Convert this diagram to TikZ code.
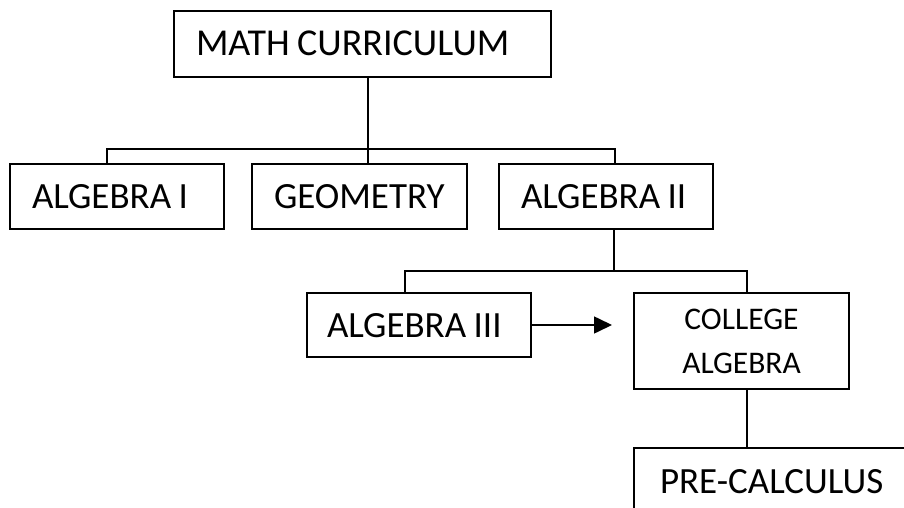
\documentclass[tikz,border=0pt]{standalone}
\usepackage{fontspec}
\setmainfont{Carlito}
\usetikzlibrary{arrows.meta}
\tikzset{
  box/.style={draw=black, line width=1.6pt, rectangle, inner ysep=0pt, outer sep=0pt,
    font=\fontsize{37}{44}\selectfont, text height=24pt, text depth=0pt,
    execute at begin node={\spaceskip=7.5pt\relax}},
  leftbox/.style 2 args={box, align=left, inner xsep=#2, text width=#1-2*#2},
  conn/.style={draw=black, line width=1.6pt},
}
\begin{document}
\begin{tikzpicture}[x=1pt,y=-1pt]
\clip (0,0) rectangle (904,508);
\fill[white] (0,0) rectangle (904,508);
% boxes
\node[leftbox={377pt}{22pt}, minimum height=66pt, font=\fontsize{38}{44}\selectfont] (math) at (362.5,44) {\mbox{MATH CURRICULUM}};
\node[leftbox={214pt}{22pt}, minimum height=65pt] (alg1) at (117,196.5) {\mbox{ALGEBRA I}};
\node[leftbox={215pt}{22pt}, minimum height=65pt] (geo) at (359.5,196.5) {\mbox{GEOMETRY}};
\node[leftbox={214pt}{22pt}, minimum height=65pt] (alg2) at (606,196.5) {\mbox{ALGEBRA II}};
\node[leftbox={224pt}{20pt}, minimum height=64pt] (alg3) at (419,325) {\mbox{ALGEBRA III}};
\node[box, align=center, minimum width=215pt, minimum height=96pt, text height=, text depth=,
  font=\fontsize{31.5}{44}\selectfont] (coll) at (741.5,341) {\raisebox{-3pt}{COLLEGE}\\\raisebox{-3pt}{ALGEBRA}};
\node[leftbox={277pt}{26pt}, minimum height=66pt] (pre) at (772.5,481) {\mbox{PRE-CALCULUS}};
% junction coordinates
\coordinate (b1L) at (107,149);
\coordinate (b1M) at (368,149);
\coordinate (b1R) at (615,149);
\coordinate (b2L) at (405,271);
\coordinate (b2M) at (614,271);
\coordinate (b2R) at (747,271);
\coordinate (arrEnd) at (612,325);
% connectors
\draw[conn] (math.south -| b1M) -- (geo.north -| b1M);
\draw[conn] (alg1.north -| b1L) -- (b1L) -- (b1R) -- (alg2.north -| b1R);
\draw[conn] (alg2.south -| b2M) -- (b2M);
\draw[conn] (alg3.north -| b2L) -- (b2L) -- (b2R) -- (coll.north -| b2R);
\draw[conn] (coll.south -| b2R) -- (pre.north -| b2R);
\draw[conn, -{Triangle[length=18pt,width=17pt]}] (alg3.east) -- (arrEnd);
\end{tikzpicture}
\end{document}
